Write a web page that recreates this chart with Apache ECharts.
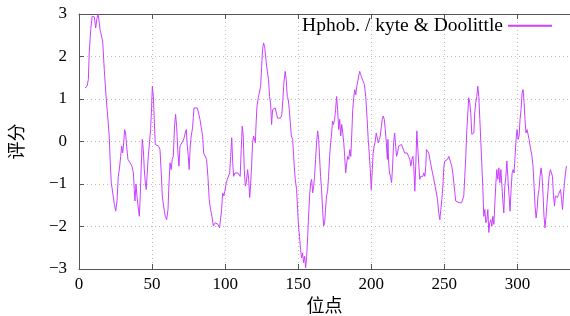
<!DOCTYPE html>
<html>
<head>
<meta charset="utf-8">
<script src="https://cdn.jsdelivr.net/npm/echarts@6/dist/echarts.min.js"></script>
<style>
  html, body { margin: 0; padding: 0; background: #fff; }
  #chart { width: 570px; height: 316px; }
</style>
</head>
<body>
<div id="chart"></div>
<script>
const seriesName = 'Hphob. / kyte & Doolittle';
const xTitle = '位点';
const yTitle = '评分';

// residue position / hydropathy score
const positions = [
  4.1, 5.5, 6.4, 7.0, 8.0, 9.0, 10.5, 11.4, 12.3, 13.2, 14.4, 16.2, 17.3, 18.5, 19.6, 20.7,
  21.4, 22.1, 23.0, 24.2, 25.1, 26.0, 26.9, 27.8, 28.5, 29.2, 29.9, 30.6, 31.2, 31.9, 32.6, 33.5,
  34.9, 36.2, 37.2, 37.8, 38.3, 39.0, 39.7, 40.4, 41.3, 41.9, 42.6, 43.3, 44.0, 44.7, 45.4, 46.0,
  46.7, 47.4, 48.3, 49.0, 49.7, 50.2, 50.9, 51.5, 52.2, 53.0, 54.5, 55.4, 56.3, 57.0, 57.9, 59.0,
  60.0, 60.9, 61.6, 62.3, 63.1, 63.8, 64.5, 65.4, 66.1, 66.8, 67.7, 68.4, 69.1, 70.0, 70.9, 71.8,
  72.7, 73.4, 74.1, 74.8, 75.4, 76.1, 76.8, 77.7, 78.7, 79.6, 80.9, 81.8, 82.8, 83.7, 84.6, 85.3,
  86.4, 87.3, 88.2, 89.1, 90.0, 91.0, 91.9, 93.2, 94.1, 95.1, 96.2, 96.9, 97.6, 98.3, 99.1, 99.8,
  100.8, 101.5, 102.4, 103.1, 103.8, 104.5, 105.2, 105.8, 106.7, 107.6, 108.8, 109.6, 110.3, 111.0, 111.7, 112.4,
  113.1, 113.8, 114.5, 115.4, 116.1, 116.8, 117.4, 118.1, 118.8, 119.5, 120.2, 120.7, 121.1, 121.8, 122.7, 123.6,
  124.3, 125.0, 125.6, 126.3, 127.0, 127.7, 128.4, 129.0, 129.7, 130.4, 131.1, 131.8, 132.5, 133.4, 134.3, 135.2,
  135.9, 136.8, 137.9, 138.8, 139.5, 140.2, 141.1, 141.8, 142.5, 143.2, 143.9, 144.6, 145.3, 146.2, 146.9, 147.3,
  148.0, 148.9, 149.6, 150.2, 150.9, 151.6, 152.3, 153.0, 153.7, 154.4, 155.1, 155.8, 156.5, 157.1, 157.8, 158.5,
  159.2, 159.9, 160.6, 161.2, 161.9, 162.6, 163.3, 164.0, 164.6, 165.3, 166.0, 166.7, 167.4, 168.1, 168.7, 169.4,
  170.1, 170.8, 171.5, 172.2, 172.9, 173.5, 174.2, 174.9, 175.6, 176.3, 177.0, 177.7, 178.4, 179.1, 179.8, 180.5,
  181.2, 181.8, 182.5, 183.2, 183.9, 184.6, 185.3, 186.0, 186.7, 187.3, 188.0, 188.7, 189.4, 190.1, 190.8, 191.4,
  192.1, 192.8, 193.5, 194.4, 195.3, 196.2, 197.2, 197.9, 198.6, 199.3, 200.0, 200.7, 201.3, 202.0, 202.7, 203.4,
  204.1, 204.8, 205.5, 206.2, 206.9, 207.5, 208.2, 208.9, 209.6, 210.3, 211.0, 211.4, 211.9, 212.5, 213.2, 213.9,
  214.6, 215.3, 216.0, 216.7, 217.3, 218.0, 218.7, 219.6, 220.7, 221.9, 222.8, 223.7, 224.6, 225.5, 226.4, 227.1,
  227.8, 228.5, 229.1, 229.8, 230.5, 231.2, 231.9, 232.6, 233.2, 233.9, 234.6, 235.3, 236.0, 236.7, 237.3, 237.8,
  238.5, 239.4, 240.1, 241.0, 241.9, 242.8, 243.7, 244.6, 245.3, 246.2, 246.9, 247.6, 248.3, 249.0, 249.7, 250.3,
  251.2, 252.2, 253.1, 253.8, 254.4, 255.1, 255.8, 256.5, 257.2, 257.8, 258.5, 260.1, 261.8, 262.7, 263.3, 264.0,
  264.7, 265.4, 266.1, 266.7, 267.4, 268.1, 268.8, 269.5, 270.2, 270.8, 271.5, 272.2, 272.9, 273.6, 274.3, 275.0,
  275.6, 276.3, 277.0, 277.7, 278.4, 279.1, 279.8, 280.4, 281.1, 281.8, 282.5, 283.2, 283.9, 284.6, 285.3, 285.9,
  286.6, 287.3, 288.0, 288.7, 289.4, 290.0, 290.7, 291.4, 292.1, 292.8, 293.7, 294.3, 295.0, 295.7, 296.4, 297.1,
  297.7, 298.4, 299.1, 299.8, 300.5, 301.2, 301.8, 302.5, 303.2, 303.9, 304.6, 305.2, 305.9, 306.6, 307.3, 308.0,
  308.7, 309.4, 310.0, 310.7, 311.4, 312.1, 312.8, 313.5, 314.1, 314.8, 315.5, 316.2, 316.9, 317.6, 318.2, 318.9,
  319.6, 320.3, 321.0, 321.7, 322.6, 323.3, 324.0, 324.7, 325.4, 326.0, 326.7, 327.4, 328.1, 328.8, 329.5, 330.2,
  330.9, 331.5, 332.2, 332.9, 333.6
];
const scores = [
  1.26, 1.30, 1.46, 2.09, 2.63, 2.95, 2.93, 2.67, 2.90, 2.99, 2.63, 2.36, 1.69, 1.07, 0.60, 0.13,
  -0.50, -0.97, -1.00, -1.48, -1.64, -1.40, -0.82, -0.60, -0.35, -0.11, -0.27, -0.03, 0.28, 0.20, -0.11, -0.42,
  -0.50, -0.58, -0.74, -1.13, -1.40, -1.00, -1.30, -1.52, -1.76, -1.28, -0.58, 0.05, -0.19, -0.66, -0.97, -1.13,
  -0.74, -0.35, 0.00, 0.28, 0.83, 1.30, 1.06, 0.52, -0.07, -0.11, -0.11, -0.19, -0.74, -1.28, -1.52, -1.76,
  -1.84, -1.60, -0.97, -0.50, -0.66, -0.42, -0.35, 0.36, 0.64, 0.36, -0.27, -0.58, -0.11, -0.07, 0.00, 0.07,
  0.20, 0.28, -0.11, -0.35, -0.66, -0.11, 0.13, 0.32, 0.79, 0.81, 0.79, 0.67, 0.52, 0.32, 0.13, -0.27,
  -0.30, -0.42, -0.82, -1.36, -1.60, -1.76, -1.99, -1.91, -1.87, -1.95, -2.03, -2.00, -1.60, -1.21, -1.28, -1.17,
  -0.97, -0.89, -0.93, -0.74, -0.35, 0.09, -0.50, -0.82, -0.74, -0.70, -0.74, -0.70, -0.82, -0.19, 0.36, 0.13,
  -0.66, -1.05, -0.97, -0.66, -0.89, -1.32, -1.05, -0.58, -0.03, 0.13, 0.17, -0.03, 0.36, 0.83, 1.03, 1.06,
  1.30, 1.77, 2.16, 2.32, 2.24, 2.01, 1.77, 1.73, 1.46, 1.06, 0.91, 0.40, 0.75, 0.75, 0.79, 0.75,
  0.55, 0.53, 0.55, 0.63, 0.99, 1.38, 1.65, 1.46, 1.06, 0.99, 0.75, 0.44, 0.13, 0.05, -0.35, -0.58,
  -0.89, -1.13, -1.60, -1.99, -2.23, -2.54, -2.74, -2.62, -2.85, -2.70, -2.97, -2.70, -2.23, -1.76, -1.28, -0.97,
  -0.89, -1.21, -1.05, -0.82, -0.42, -0.03, 0.25, 0.05, -0.35, -0.82, -1.13, -1.60, -1.99, -1.91, -1.60, -1.28,
  -1.17, -0.82, -0.35, -0.03, 0.20, 0.48, 0.40, 0.52, 0.75, 1.06, 0.75, 0.28, 0.52, 0.13, 0.40, 0.20,
  -0.03, -0.35, -0.74, -0.50, -0.35, -0.42, -0.19, -0.35, 0.20, 0.75, 1.03, 1.22, 1.10, 1.30, 1.42, 1.54,
  1.65, 1.57, 1.50, 1.42, 1.34, 1.06, 0.52, 0.05, -0.27, -0.66, -1.13, -0.66, -0.27, -0.11, 0.00, 0.20,
  0.20, -0.03, 0.05, 0.13, 0.36, 0.52, 0.60, 0.52, 0.28, -0.03, -0.42, 0.05, -0.50, -0.74, -0.82, -0.97,
  -0.58, -0.03, 0.20, -0.11, -0.35, -0.27, -0.11, -0.11, -0.07, -0.11, -0.27, -0.27, -0.27, -0.35, -0.42, -0.58,
  -0.42, -0.35, -0.58, -1.17, -0.50, 0.25, -0.19, -0.58, -0.89, -0.82, -0.78, -0.82, -0.74, -0.82, -0.58, -0.19,
  -0.23, -0.27, -0.42, -0.58, -0.74, -0.89, -1.05, -1.21, -1.36, -1.68, -1.84, -1.60, -1.36, -1.05, -0.58, -0.46,
  -0.46, -0.42, -0.35, -0.38, -0.50, -0.58, -0.74, -0.97, -1.21, -1.40, -1.44, -1.44, -1.44, -1.44, -1.28, -0.82,
  -0.35, 0.28, 0.67, 1.03, 0.91, 0.67, 0.17, 0.20, 0.20, 0.67, 0.91, 1.06, 1.30, 1.06, 0.52, -0.03,
  -0.50, -1.05, -1.76, -1.60, -1.91, -1.84, -1.60, -2.14, -1.91, -1.84, -1.99, -1.76, -1.95, -1.44, -0.97, -0.66,
  -0.89, -0.62, -0.97, -0.66, -1.05, -1.36, -1.68, -1.05, -0.82, -0.46, -0.97, -1.28, -1.64, -1.13, -0.74, -0.66,
  -0.74, -0.35, 0.05, 0.28, 0.05, 0.13, 0.52, 0.75, 1.14, 1.22, 0.91, 0.52, 0.20, 0.28, 0.17, 0.05,
  -0.11, -0.11, -0.35, -0.58, -1.05, -1.52, -1.80, -1.60, -1.28, -1.13, -0.82, -0.62, -0.82, -1.28, -1.76, -2.03,
  -1.76, -1.44, -1.13, -0.82, -0.66, -0.62, -0.82, -1.28, -1.52, -1.28, -1.25, -1.32, -1.25, -1.28, -1.13, -1.36,
  -1.60, -1.28, -0.97, -0.74, -0.58
];

const serif = "'Liberation Serif', 'Noto Sans CJK SC', serif";
const borderColor = '#555';
const lineColor = '#c940ff';
const minus = v => (v < 0 ? '\u2212' + Math.abs(v) : String(v));

const chart = echarts.init(document.getElementById('chart'), null, { renderer: 'canvas' });
chart.setOption({
  animation: false,
  backgroundColor: '#fff',
  grid: { left: 79, right: 0, top: 14, bottom: 47, outerBoundsMode: 'none', containLabel: false },
  legend: {
    data: [seriesName],
    right: 18, top: 16, padding: 0,
    align: 'right',
    icon: 'rect', itemWidth: 44, itemHeight: 2, itemGap: 2,
    textStyle: { fontFamily: serif, fontSize: 19.5, color: '#000', padding: [0, 0, 0, 0] },
  },
  xAxis: [
    {
      type: 'value', min: 0, max: 336, interval: 50,
      name: xTitle, nameLocation: 'middle', nameGap: 28,
      nameTextStyle: { fontFamily: serif, fontSize: 18, color: '#000' },
      axisLine: { onZero: false, lineStyle: { color: borderColor } },
      axisTick: { inside: true, length: 5, lineStyle: { color: borderColor } },
      axisLabel: { fontFamily: serif, fontSize: 17, color: '#000', margin: 7, showMaxLabel: false },
      splitLine: { lineStyle: { color: '#bbb', type: [1, 3] } },
    },
    {
      type: 'value', min: 0, max: 336, interval: 50, position: 'top',
      axisLine: { show: true, onZero: false, lineStyle: { color: borderColor } },
      axisTick: { show: true, inside: true, length: 5, lineStyle: { color: borderColor } },
      axisLabel: { show: false },
      splitLine: { show: false },
    },
  ],
  yAxis: {
    type: 'value', min: -3, max: 3, interval: 1,
    name: yTitle, nameLocation: 'middle', nameGap: 52, nameRotate: 90,
    nameTextStyle: { fontFamily: serif, fontSize: 18, color: '#000' },
    axisLine: { show: true, onZero: false, lineStyle: { color: borderColor } },
    axisTick: { show: true, inside: true, length: 5, lineStyle: { color: borderColor } },
    axisLabel: { fontFamily: serif, fontSize: 17, color: '#000', margin: 12, formatter: minus },
    splitLine: { lineStyle: { color: '#bbb', type: [1, 3] } },
  },
  series: [{
    name: seriesName,
    type: 'line',
    data: positions.map((x, i) => [x, scores[i]]),
    showSymbol: false,
    symbol: 'none',
    lineStyle: { color: lineColor, width: 1 },
    itemStyle: { color: lineColor },
  }],
});
</script>
</body>
</html>
